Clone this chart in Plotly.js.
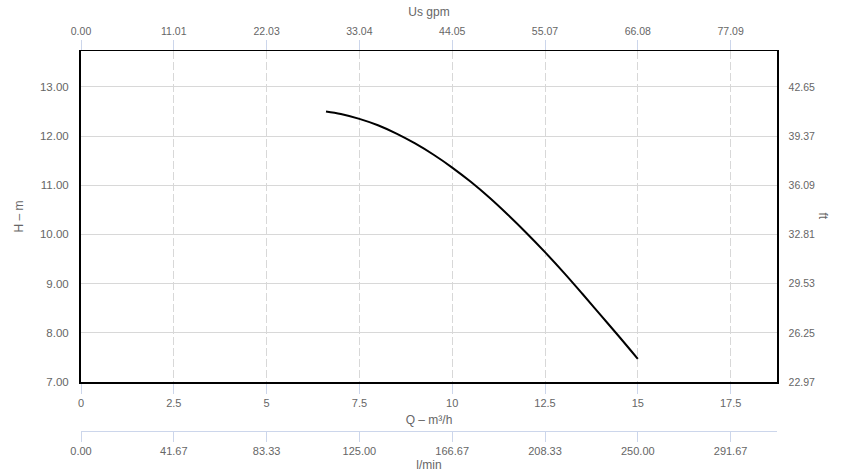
<!DOCTYPE html>
<html>
<head>
<meta charset="utf-8">
<script src="https://cdn.plot.ly/plotly-3.0.1.min.js"></script>
<style>html,body{margin:0;padding:0;background:#fff;}#chart{width:850px;height:472px;}</style>
</head>
<body>
<div id="chart"></div>
<script>
// Flow (m³/h) and head (m)
var flowM3h = [6.6, 7.0, 7.5, 8.0, 8.5, 9.0, 9.5, 10.0, 10.5, 11.0, 11.5, 12.0, 12.5, 13.0, 13.5, 14.0, 14.5, 15.0];
var headM   = [12.50, 12.45, 12.35, 12.22, 12.05, 11.85, 11.62, 11.36, 11.07, 10.75, 10.40, 10.03, 9.64, 9.23, 8.80, 8.36, 7.92, 7.47];

// Axis tick values and labels
var qTicks = [0, 2.5, 5, 7.5, 10, 12.5, 15, 17.5];
var qLabels = ["0", "2.5", "5", "7.5", "10", "12.5", "15", "17.5"];
var gpmLabels = ["0.00", "11.01", "22.03", "33.04", "44.05", "55.07", "66.08", "77.09"];
var lminLabels = ["0.00", "41.67", "83.33", "125.00", "166.67", "208.33", "250.00", "291.67"];
var hTicks = [7, 8, 9, 10, 11, 12, 13];
var hLabels = ["7.00", "8.00", "9.00", "10.00", "11.00", "12.00", "13.00"];
var ftLabels = ["22.97", "26.25", "29.53", "32.81", "36.09", "39.37", "42.65"];

var xRange = [0, 18.75];
var yRange = [7, 13.73];
var font = "Liberation Sans, Arial, sans-serif";
var labelColor = "#666666";
var tickBlue = "#ccd6eb";

var traces = [
  {x: flowM3h, y: headM, type: "scatter", mode: "lines",
   line: {color: "#000000", width: 2, shape: "spline", smoothing: 1}, hoverinfo: "skip", showlegend: false},
  {x: [xRange[0]], y: [yRange[0]], xaxis: "x2", yaxis: "y2", type: "scatter", mode: "markers",
   marker: {opacity: 0}, hoverinfo: "skip", showlegend: false},
  {x: [xRange[0]], y: [yRange[0]], xaxis: "x3", yaxis: "y", type: "scatter", mode: "markers",
   marker: {opacity: 0}, hoverinfo: "skip", showlegend: false}
];

var layout = {
  width: 850, height: 472,
  margin: {l: 81, r: 73, t: 51, b: 10},
  paper_bgcolor: "#ffffff", plot_bgcolor: "#ffffff",
  font: {family: font, color: labelColor, size: 11},
  showlegend: false,
  xaxis: {
    range: xRange, tickvals: qTicks, ticktext: qLabels,
    showgrid: true, gridcolor: "#d8d8d8", griddash: "8px,3px", gridwidth: 1,
    zeroline: false, showline: true, linecolor: "#000000", linewidth: 1.5,
    ticks: "outside", ticklen: 10, tickcolor: tickBlue, tickwidth: 1,
    tickfont: {size: 11, color: labelColor},
    title: {text: "Q – m³/h", font: {size: 12, color: labelColor}, standoff: 8},
    anchor: "y"
  },
  xaxis2: {
    range: xRange, tickvals: qTicks, ticktext: gpmLabels,
    overlaying: "x", side: "top", anchor: "y2",
    showgrid: false, zeroline: false, showline: true, linecolor: "#000000", linewidth: 1.5,
    ticks: "outside", ticklen: 10, tickcolor: tickBlue, tickwidth: 1,
    tickfont: {size: 10.5, color: labelColor},
    title: {text: "Us gpm", font: {size: 12, color: labelColor}, standoff: 6}
  },
  xaxis3: {
    range: xRange, tickvals: qTicks, ticktext: lminLabels,
    overlaying: "x", side: "bottom", anchor: "free", position: 0.0754,
    showgrid: false, zeroline: false, showline: true, linecolor: tickBlue, linewidth: 1,
    ticks: "outside", ticklen: 10, tickcolor: tickBlue, tickwidth: 1,
    tickfont: {size: 11, color: labelColor},
    title: {text: "l/min", font: {size: 12, color: labelColor}, standoff: 10}
  },
  yaxis: {
    range: yRange, tickvals: hTicks, ticktext: hLabels, domain: [0.1946, 1],
    showgrid: true, gridcolor: "#d8d8d8", gridwidth: 1,
    zeroline: false, showline: true, linecolor: "#000000", linewidth: 2,
    ticks: "", tickfont: {size: 11.5, color: labelColor}, ticklabelstandoff: 8,
    title: {text: "H – m", font: {size: 12, color: labelColor}, standoff: 14}
  },
  yaxis2: {
    range: yRange, tickvals: hTicks, ticktext: ftLabels, domain: [0.1946, 1],
    overlaying: "y", side: "right", anchor: "x2",
    showgrid: false, zeroline: false, showline: true, linecolor: "#000000", linewidth: 1.5,
    ticks: "", tickfont: {size: 10.5, color: labelColor}, ticklabelstandoff: 8
  },
  annotations: [
    {text: "ft", xref: "paper", yref: "paper", x: 1, xshift: 55, y: 0.6, yanchor: "middle",
     showarrow: false, textangle: 90, font: {family: font, size: 12, color: labelColor}}
  ]
};

Plotly.newPlot("chart", traces, layout, {staticPlot: true, displayModeBar: false});
</script>
</body>
</html>
